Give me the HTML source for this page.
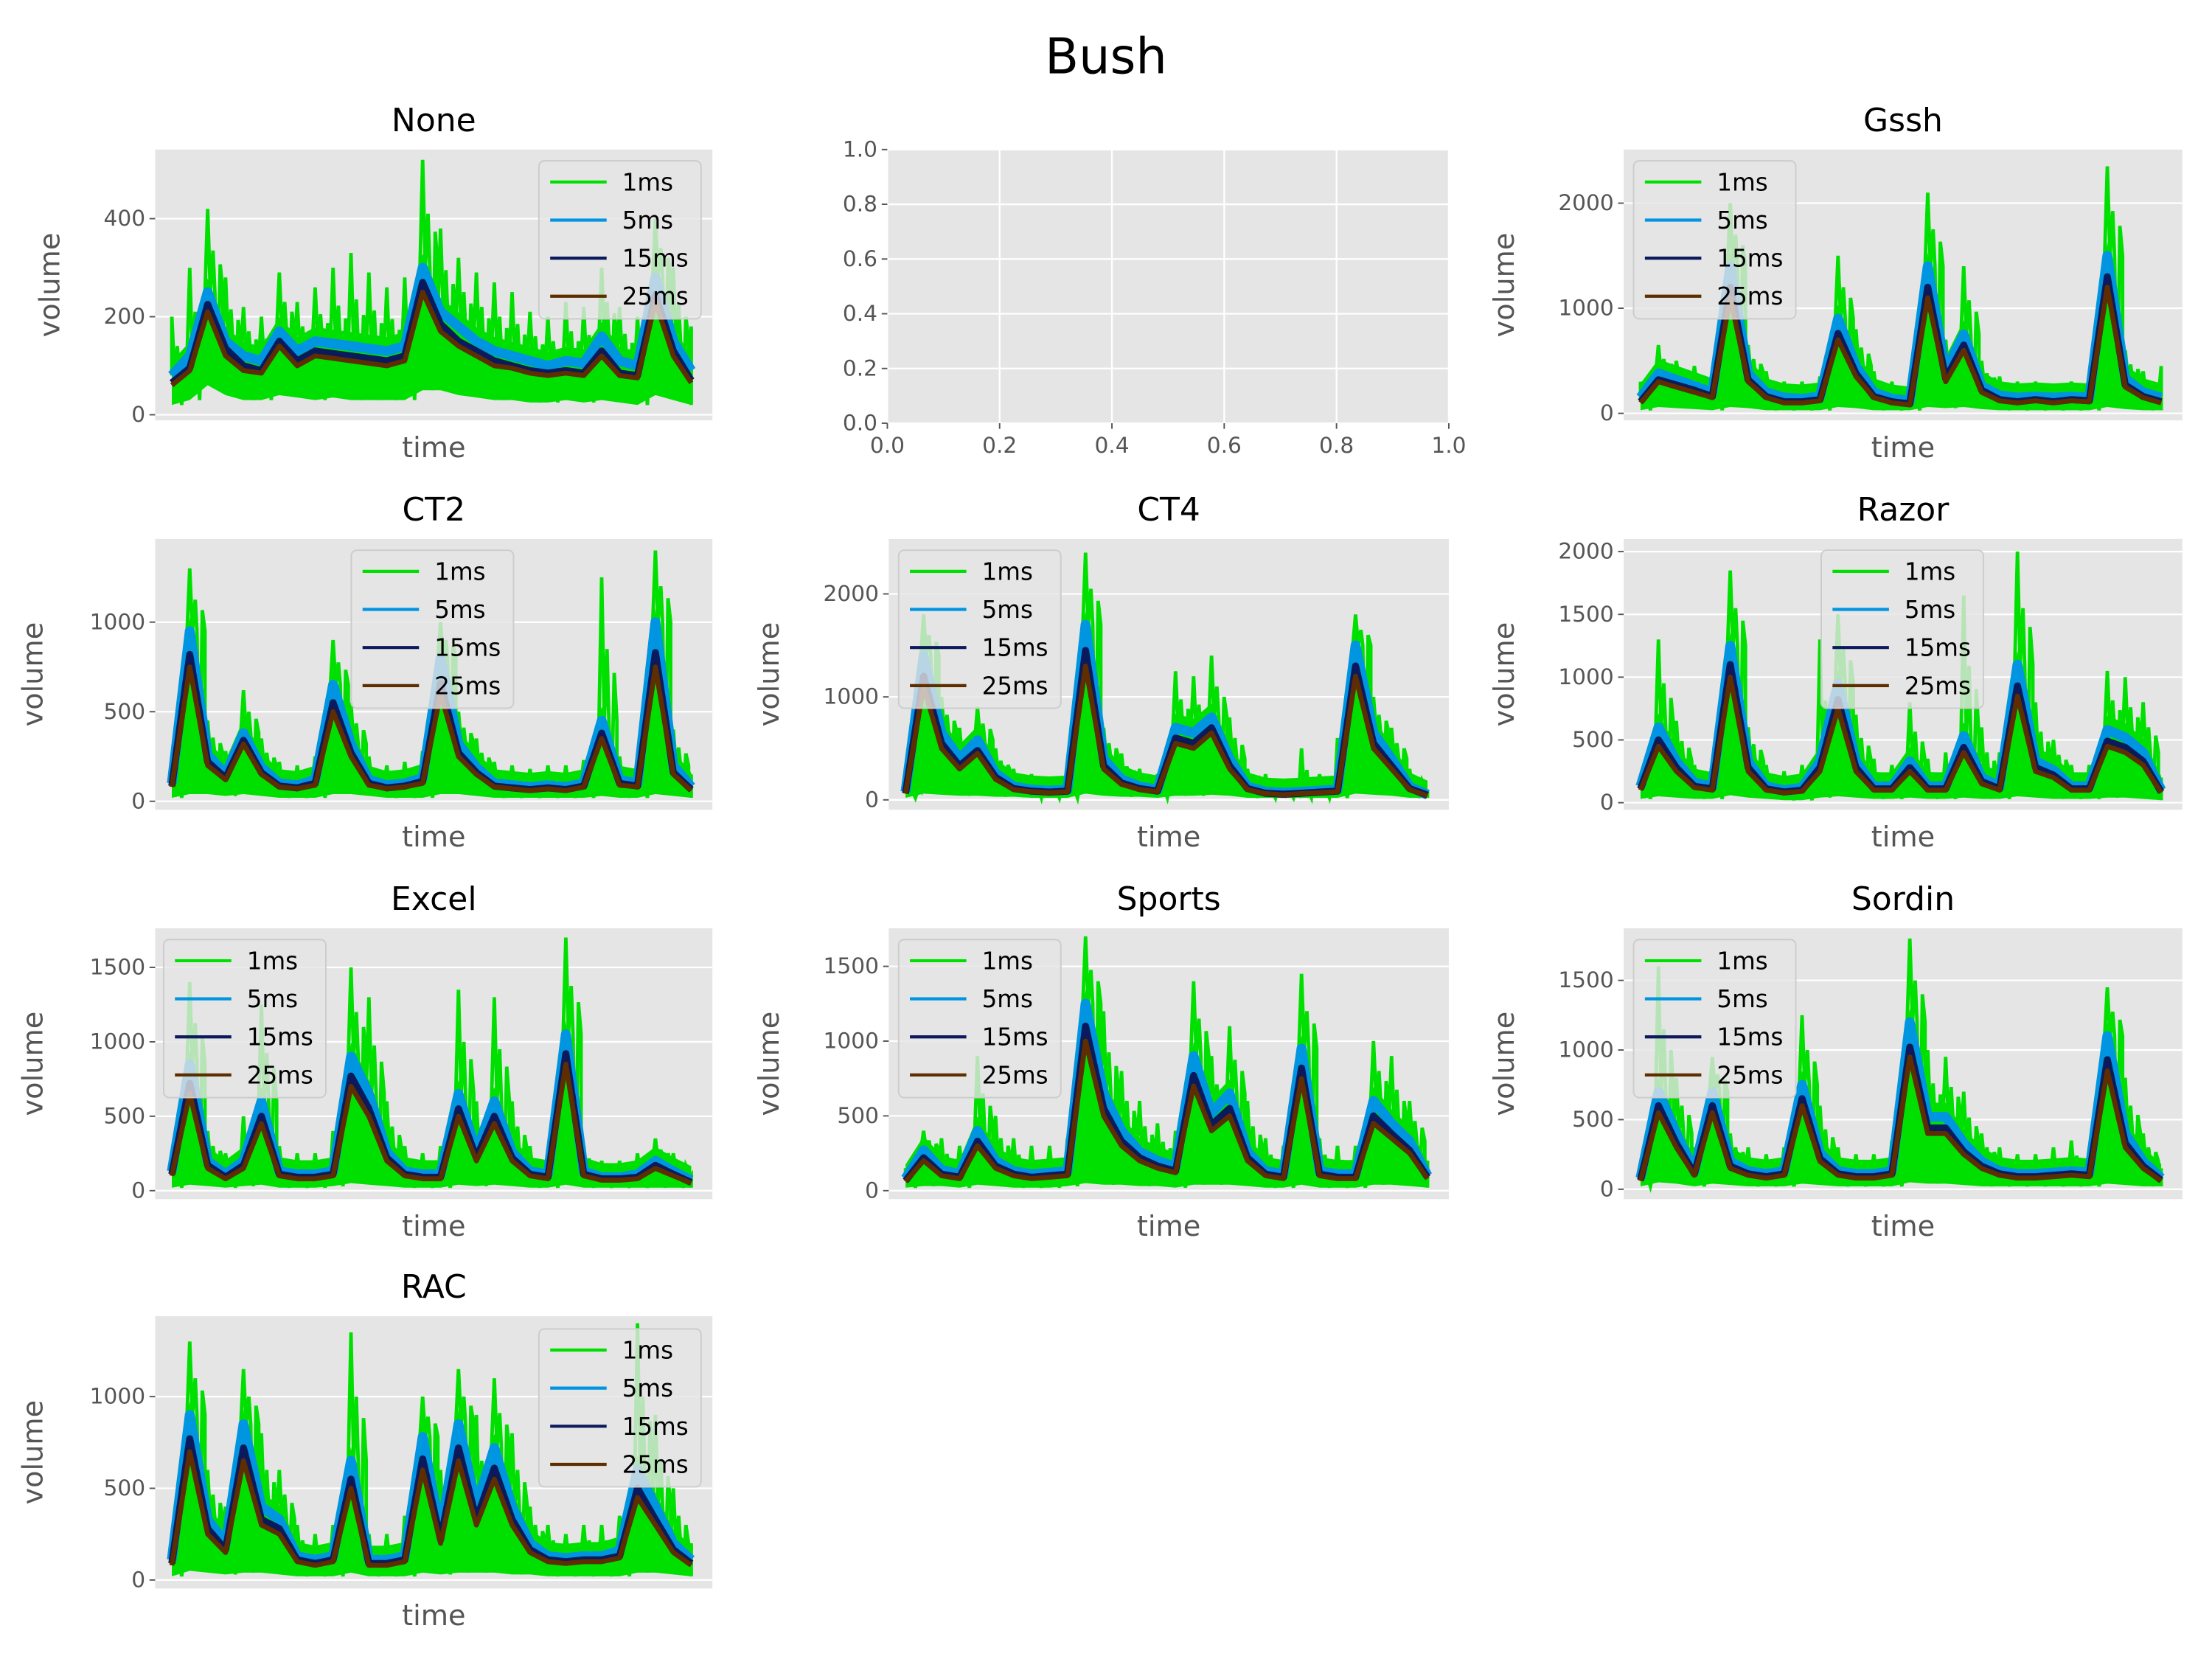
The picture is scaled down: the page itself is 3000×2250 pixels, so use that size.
<!DOCTYPE html>
<html><head><meta charset="utf-8"><style>html,body{margin:0;padding:0;background:#fff}svg{display:block}</style></head>
<body>
<svg id="fig" xmlns="http://www.w3.org/2000/svg" width="3000" height="2250" viewBox="0 0 1568 1176" font-family="'DejaVu Sans','Liberation Sans',sans-serif">
<rect width="1568" height="1176" fill="#fff"/>
<text x="784" y="52" text-anchor="middle" font-size="35" fill="#000">Bush</text>
<g id="empty"></g>
</svg>
<script>
const seriesNames = ["1ms","5ms","15ms","25ms"];
const colors = ["#00e000","#0095e0","#0a1a5c","#5e2e00"];

const noneHi = [200,300,420,280,220,200,290,230,260,300,330,290,260,280,520,380,320,290,270,250,210,200,230,220,300,220,200,400,300,180];
const noneLo = [20,30,60,40,30,30,40,35,30,35,30,30,30,30,50,50,40,35,30,30,25,25,30,25,30,25,20,40,30,20];
const none5 = [80,120,250,150,120,110,170,130,150,145,140,135,130,140,300,210,180,150,130,120,110,100,110,105,160,110,100,280,150,90];
const none15 = [65,95,225,135,100,90,150,110,130,125,120,115,110,120,270,185,150,130,110,100,90,85,90,85,130,85,80,245,130,70];
const none25 = [60,90,210,120,90,85,140,100,120,115,110,105,100,110,250,170,140,120,100,95,85,80,85,80,120,80,75,230,120,65];

const gsshHi = [300,650,500,450,350,2000,650,400,300,300,350,1500,800,400,300,280,2100,700,1400,500,350,300,300,280,300,300,2350,600,400,450];
const gsshLo = [30,60,50,40,30,60,50,30,30,30,30,60,50,30,30,30,60,50,60,40,30,30,30,30,30,30,60,40,30,30];
const gssh5 = [150,380,320,260,200,1400,380,200,150,140,160,900,450,200,140,120,1400,400,750,260,170,150,160,150,160,150,1500,330,200,150];
const gssh15 = [110,320,270,220,160,1200,320,160,110,110,130,760,380,160,110,90,1200,330,650,220,130,110,130,110,130,120,1300,270,160,110];
const gssh25 = [100,300,250,200,150,1100,300,150,100,100,120,700,350,150,100,80,1100,300,600,200,120,100,120,100,120,110,1200,250,150,100];

const ct2Hi = [200,1300,450,280,620,350,220,200,250,900,550,250,200,220,280,1000,500,350,220,200,180,200,200,230,1250,250,230,1400,400,150];
const ct2Lo = [20,40,40,30,40,30,20,20,20,40,40,30,20,20,20,40,40,30,20,20,20,20,20,20,30,20,20,40,30,20];
const ct25 = [100,950,260,150,380,190,100,90,120,650,320,120,90,100,130,800,320,190,100,90,80,90,80,100,450,120,100,1000,200,80];
const ct215 = [85,820,220,130,340,160,85,75,100,550,270,100,75,85,110,660,270,160,85,75,65,75,65,85,380,100,85,830,160,65];
const ct225 = [80,750,200,120,320,150,80,70,90,500,250,90,70,80,100,600,250,150,80,70,60,70,60,80,350,90,80,750,150,60];

const ct4Hi = [150,1800,1000,700,900,500,300,250,200,300,2400,700,450,300,250,1250,1200,1400,800,300,250,200,500,250,600,1800,1000,700,300,100];
const ct4Lo = [20,60,50,40,40,30,30,20,20,20,60,40,30,30,20,40,40,50,40,20,20,20,20,20,20,60,50,40,20,20];
const ct45 = [80,1400,650,400,580,260,130,100,90,100,1700,400,200,130,100,700,650,800,400,130,80,70,80,90,100,1500,650,400,130,50];
const ct415 = [65,1200,550,330,480,220,110,85,75,85,1450,330,165,110,85,600,550,700,330,110,65,55,65,75,85,1300,550,330,110,45];
const ct425 = [60,1100,500,300,450,200,100,80,70,80,1300,300,150,100,80,550,500,650,300,100,60,50,60,70,80,1200,500,300,100,40];

const razorHi = [200,1300,650,300,250,1850,600,300,250,300,1300,1500,700,350,300,800,350,400,1650,600,400,2000,800,500,300,300,1050,1000,800,200];
const razorLo = [30,50,40,30,30,60,40,30,20,20,40,50,40,30,30,40,30,30,40,30,30,50,40,30,30,30,40,40,30,20];
const razor5 = [130,600,330,160,130,1250,330,130,100,120,330,950,330,130,130,330,130,130,530,200,130,1100,330,260,130,130,580,520,400,100];
const razor15 = [110,500,280,130,110,1100,280,110,85,100,280,820,280,110,110,280,110,110,440,170,110,930,280,220,110,110,490,440,330,85];
const razor25 = [100,450,250,120,100,1000,250,100,80,90,250,750,250,100,100,250,100,100,400,150,100,850,250,200,100,100,450,400,300,80];

const excelHi = [200,1400,400,250,500,1250,300,250,250,400,1500,1300,600,300,250,300,1350,600,1300,600,300,250,1700,300,200,200,250,350,250,100];
const excelLo = [20,40,30,20,30,40,20,20,20,30,50,40,30,20,20,20,40,30,40,30,20,20,40,20,20,20,20,20,20,20];
const excel5 = [130,850,200,110,200,600,130,110,110,130,900,650,260,130,110,110,650,260,600,260,130,110,1050,130,90,90,110,200,130,70];
const excel15 = [110,720,170,90,170,500,110,90,90,110,770,550,220,110,90,90,550,220,500,220,110,90,920,110,80,80,90,170,110,55];
const excel25 = [100,650,150,80,150,450,100,80,80,100,700,500,200,100,80,80,500,200,450,200,100,80,850,100,70,70,80,150,100,50];

const sportsHi = [150,400,350,300,900,500,350,300,300,350,1700,1200,800,600,450,400,1400,900,1100,600,350,300,1450,350,300,300,1000,900,600,200];
const sportsLo = [20,30,30,20,40,30,20,20,20,30,50,40,40,30,30,20,40,40,40,30,20,20,40,20,20,20,40,40,30,20];
const sports5 = [80,270,140,110,400,200,130,110,120,130,1250,650,400,260,200,160,900,520,650,260,130,110,950,130,110,110,600,450,330,100];
const sports15 = [65,220,110,90,330,165,110,90,100,110,1100,550,330,220,165,130,770,440,550,220,110,90,820,110,90,90,500,380,270,90];
const sports25 = [60,200,100,80,300,150,100,80,90,100,1000,500,300,200,150,120,700,400,500,200,100,80,750,100,80,80,450,350,250,80];

const sordinHi = [150,1600,800,300,950,400,300,250,300,1250,600,300,250,250,350,1800,1000,950,700,400,300,250,250,300,350,300,1450,800,400,150];
const sordinLo = [20,50,40,20,40,30,20,20,20,40,30,20,20,20,20,50,40,40,30,20,20,20,20,20,20,20,40,30,20,20];
const sordin5 = [80,700,400,130,700,200,130,110,130,750,260,130,110,110,130,1200,520,520,330,200,130,110,110,120,130,120,1100,400,200,80];
const sordin15 = [65,600,330,110,600,165,110,90,110,650,220,110,90,90,110,1020,440,440,270,165,110,90,90,100,110,100,930,330,165,65];
const sordin25 = [60,550,300,100,550,150,100,80,100,600,200,100,80,80,100,950,400,400,250,150,100,80,80,90,100,90,850,300,150,60];

const racHi = [200,1300,600,400,1150,800,600,300,250,300,1350,250,250,350,1000,600,1150,900,1100,800,400,300,250,300,300,350,1400,900,500,200];
const racLo = [20,50,40,30,40,40,30,20,20,20,40,20,20,20,40,30,40,40,40,30,30,20,20,20,20,20,40,40,30,20];
const rac5 = [110,900,330,200,850,400,330,130,110,130,650,110,110,130,780,260,850,400,720,400,200,130,120,130,130,160,600,400,200,110];
const rac15 = [90,770,280,165,720,330,280,110,90,110,550,90,90,110,660,220,720,330,610,330,165,110,100,110,110,130,500,330,165,90];
const rac25 = [80,700,250,150,650,300,250,100,80,100,500,80,80,100,600,200,650,300,550,300,150,100,90,100,100,120,450,300,150,80];

const panels = [
 {title:"None",box:[110,106,505,298],y0:294,ppu:69.5/200,ticks:[0,200,400],leg:[382,114],vx:42,hi:noneHi,lo:noneLo,s5:none5,s15:none15,s25:none25},
 {title:"Gssh",box:[1151,106,1547,298],y0:293,ppu:74.5/1000,ticks:[0,1000,2000],leg:[1158,114],vx:1073,hi:gsshHi,lo:gsshLo,s5:gssh5,s15:gssh15,s25:gssh25},
 {title:"CT2",box:[110,382,505,574],y0:568,ppu:127/1000,ticks:[0,500,1000],leg:[249,390],vx:30,hi:ct2Hi,lo:ct2Lo,s5:ct25,s15:ct215,s25:ct225},
 {title:"CT4",box:[630,382,1027,574],y0:567,ppu:73/1000,ticks:[0,1000,2000],leg:[637,390],vx:552,hi:ct4Hi,lo:ct4Lo,s5:ct45,s15:ct415,s25:ct425},
 {title:"Razor",box:[1151,382,1547,574],y0:569,ppu:89/1000,ticks:[0,500,1000,1500,2000],leg:[1291,390],vx:1073,hi:razorHi,lo:razorLo,s5:razor5,s15:razor15,s25:razor25},
 {title:"Excel",box:[110,658,505,850],y0:844,ppu:105.5/1000,ticks:[0,500,1000,1500],leg:[116,666],vx:30,hi:excelHi,lo:excelLo,s5:excel5,s15:excel15,s25:excel25},
 {title:"Sports",box:[630,658,1027,850],y0:844,ppu:106/1000,ticks:[0,500,1000,1500],leg:[637,666],vx:552,hi:sportsHi,lo:sportsLo,s5:sports5,s15:sports15,s25:sports25},
 {title:"Sordin",box:[1151,658,1547,850],y0:843,ppu:98.7/1000,ticks:[0,500,1000,1500],leg:[1158,666],vx:1073,hi:sordinHi,lo:sordinLo,s5:sordin5,s15:sordin15,s25:sordin25},
 {title:"RAC",box:[110,933,505,1126],y0:1120,ppu:130/1000,ticks:[0,500,1000],leg:[382,942],vx:30,hi:racHi,lo:racLo,s5:rac5,s15:rac15,s25:rac25}
];
const emptyTicks = [0,0.2,0.4,0.6,0.8,1.0];
const NS="http://www.w3.org/2000/svg";
const svg=document.getElementById('fig');
function mk(tag,attrs,parent){const e=document.createElementNS(NS,tag);for(const k in attrs)e.setAttribute(k,attrs[k]);(parent||svg).appendChild(e);return e;}

(function(){
 const g=document.getElementById('empty');
 const L=629,R=1027,T=106,B=300;
 const bg=mk('rect',{x:L,y:T,width:R-L,height:B-T,fill:'#e5e5e5'},g);
 
 emptyTicks.forEach(v=>{
  const x=L+v*(R-L), y=B-v*(B-T);
  mk('line',{x1:x,y1:T,x2:x,y2:B,stroke:'#fff','stroke-width':1.2},g);
  mk('line',{x1:L,y1:y,x2:R,y2:y,stroke:'#fff','stroke-width':1.2},g);
  mk('line',{x1:x,y1:B,x2:x,y2:B+4,stroke:'#555','stroke-width':1},g);
  mk('line',{x1:L-4,y1:y,x2:L,y2:y,stroke:'#555','stroke-width':1},g);
  const tx=mk('text',{x:x,y:B+21,'text-anchor':'middle','font-size':15.5,fill:'#555'},g);tx.textContent=v.toFixed(1);
  
  const ty=mk('text',{x:L-7,y:y+5,'text-anchor':'end','font-size':15.5,fill:'#555'},g);ty.textContent=v.toFixed(1);
  
 });
})();

panels.forEach((p,pi)=>{
 const [L,T,R,B]=p.box;
 const g=mk('g',{});
 
 
 const cid='clip'+pi;
 const cp=mk('clipPath',{id:cid},g);mk('rect',{x:L,y:T,width:R-L,height:B-T},cp);
 const bg=mk('rect',{x:L,y:T,width:R-L,height:B-T,fill:'#e5e5e5'},g);
 
 const w=R-L, x0=L+0.03*w, x1=R-0.038*w;
 const n=p.s25.length;
 const xs=i=>x0+i*(x1-x0)/(n-1);
 const ys=v=>p.y0-v*p.ppu;
 p.ticks.forEach(t=>{
  const y=ys(t);
  mk('line',{x1:L,y1:y,x2:R,y2:y,stroke:'#fff','stroke-width':1.2},g);
  mk('line',{x1:L-4,y1:y,x2:L,y2:y,stroke:'#555','stroke-width':1},g);
  const tl=mk('text',{x:L-7,y:y+5,'text-anchor':'end','font-size':15.5,fill:'#555'},g);tl.textContent=t;
  
 });
 const dg=mk('g',{'clip-path':'url(#'+cid+')'},g);
 let poly='';
 for(let i=0;i<n;i++)poly+=(i?'L':'M')+xs(i).toFixed(1)+','+(ys(p.s5[i])-10).toFixed(1);
 for(let i=n-1;i>=0;i--)poly+='L'+xs(i).toFixed(1)+','+ys(p.lo[i]).toFixed(1);
 const area=mk('path',{d:poly+'Z',fill:colors[0]},dg);
 
 let d='';
 for(let i=0;i<n;i++){
  const a=xs(i), sp=(x1-x0)/(n-1);
  d+=(i?'L':'M')+(a-(i?sp*0.15:0)).toFixed(1)+','+ys(p.s5[i]).toFixed(1)+'L'+a.toFixed(1)+','+ys(p.hi[i]).toFixed(1);
  if(i<n-1){
   d+='L'+(a+sp*0.15).toFixed(1)+','+ys(p.s5[i]).toFixed(1)
    +'L'+(a+sp*0.3).toFixed(1)+','+ys((p.hi[i]+p.s5[i])/2).toFixed(1)+'L'+(a+sp*0.4).toFixed(1)+','+ys(p.s5[i]).toFixed(1)
    +'L'+(a+sp*0.55).toFixed(1)+','+ys(p.lo[i]).toFixed(1)+'L'+(a+sp*0.7).toFixed(1)+','+ys((p.hi[i]+2*p.s5[i])/3).toFixed(1)+'L'+(a+sp*0.85).toFixed(1)+','+ys(p.s5[i]).toFixed(1);
  } else {
   d+='L'+a.toFixed(1)+','+ys(p.lo[i]).toFixed(1);
  }
 }
 const l1=mk('path',{d:d,fill:'none',stroke:colors[0],'stroke-width':2.5},dg);
 
 [[p.s5,1,7],[p.s15,2,5],[p.s25,3,3.5]].forEach(([arr,ci,sw])=>{
  let dd='';arr.forEach((v,i)=>{dd+=(i?'L':'M')+xs(i).toFixed(1)+','+ys(v).toFixed(1);});
  const pl=mk('path',{d:dd,fill:'none',stroke:colors[ci],'stroke-width':sw,'stroke-linejoin':'round'},dg);
  
 });
 const tt=mk('text',{x:(L+R)/2,y:T-13,'text-anchor':'middle','font-size':23,fill:'#000'},g);tt.textContent=p.title;
 
 const xl=mk('text',{x:(L+R)/2,y:B+26,'text-anchor':'middle','font-size':20,fill:'#555'},g);xl.textContent='time';
 
 const yl=mk('text',{x:p.vx,y:(T+B)/2,'text-anchor':'middle','font-size':20,fill:'#555',transform:'rotate(-90 '+p.vx+' '+((T+B)/2)+')'},g);yl.textContent='volume';
 
 const [lx,ly]=p.leg;
 const lg=mk('g',{},g);
 
 mk('rect',{x:lx,y:ly,width:115,height:112,rx:4,fill:'#e5e5e5','fill-opacity':0.8,stroke:'#cccccc','stroke-width':1},lg);
 seriesNames.forEach((s,k)=>{
  const yy=ly+15+k*27;
  const e=mk('g',{},lg);
  
  mk('line',{x1:lx+8,y1:yy,x2:lx+48,y2:yy,stroke:colors[k],'stroke-width':2.2},e);
  const t=mk('text',{x:lx+59,y:yy+6,'font-size':17,fill:'#000'},e);t.textContent=s;
 });
});
</script>
</body></html>
